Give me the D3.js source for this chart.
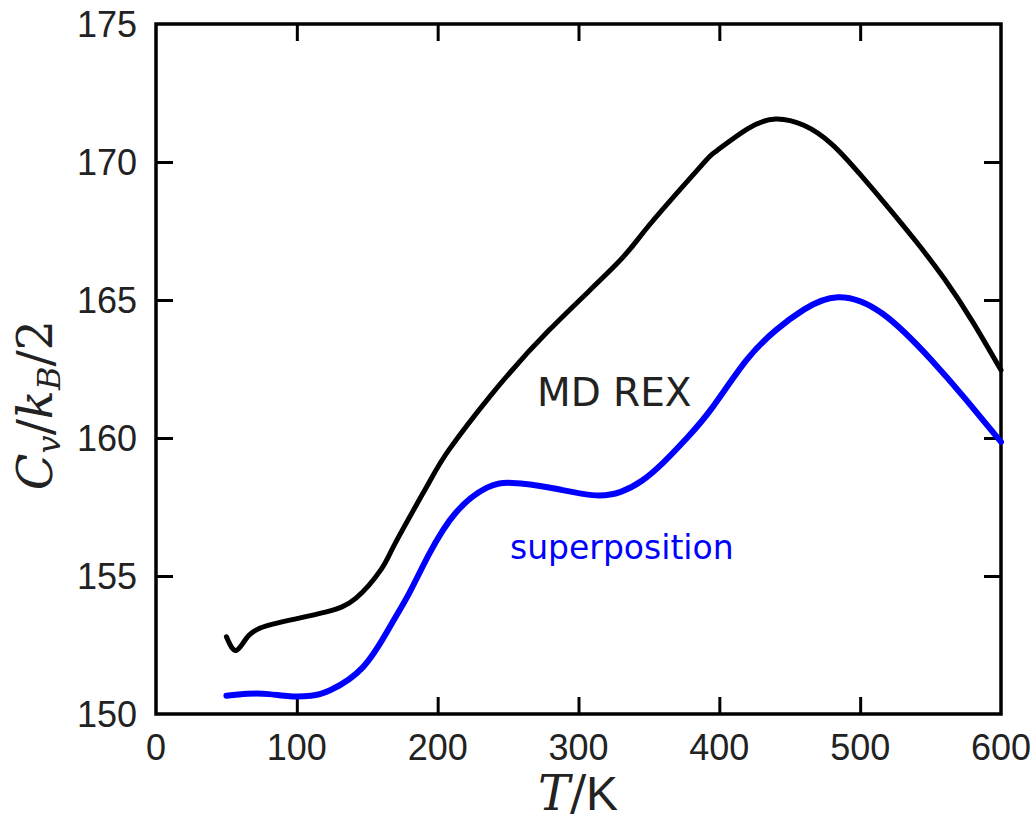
<!DOCTYPE html>
<html>
<head>
<meta charset="utf-8">
<script src="https://cdn.jsdelivr.net/npm/d3@7"></script>
<style>
	body { margin: 0; background: #fff; }
	svg { display: block; }
	.tick-label { font-family: 'Liberation Sans', Arial, sans-serif; font-size: 36px; fill: #222; }
	.math { font-family: 'DejaVu Serif', 'Liberation Serif', serif; }
</style>
</head>
<body>
<div id="chart"></div>
<script>
// Data
var mdRexT = [50, 57, 66, 79, 95, 121, 142, 160, 170, 194, 208, 237, 279, 327, 350, 386, 398, 420, 440, 460, 480, 500, 520, 540, 560, 580, 600];
var mdRexCv = [152.8, 152.3, 152.85, 153.2, 153.4, 153.7, 154.2, 155.25, 156.2, 158.4, 159.57, 161.5, 163.9, 166.3, 167.7, 169.8, 170.4, 171.2, 171.56, 171.33, 170.64, 169.55, 168.35, 167.1, 165.75, 164.2, 162.46];

var superT = [50, 65, 80, 95, 110, 124, 147, 166, 180, 194, 213, 235, 253, 280, 310, 330, 345, 360, 377, 395, 419, 440, 460, 484, 516, 551, 575, 600];
var superCv = [150.66, 150.73, 150.72, 150.64, 150.66, 150.87, 151.7, 153.15, 154.4, 155.8, 157.3, 158.2, 158.37, 158.2, 157.93, 158.05, 158.45, 159.1, 160.0, 161.1, 162.8, 163.9, 164.65, 165.1, 164.5, 162.8, 161.4, 159.86];

var xTicks = [0, 100, 200, 300, 400, 500, 600];
var yTicks = [150, 155, 160, 165, 170, 175];

var width = 1034;
var height = 821;
var margins = { top: 24, right: 33, bottom: 107, left: 156 };
var chartWidth = width - margins.left - margins.right;
var chartHeight = height - margins.top - margins.bottom;
var tickLen = 17;

var zip = function(xs, ys) {
	return xs.map(function(x, i) {
		return { t: x, cv: ys[i] };
	});
};

var svg = d3.select('#chart')
	.append('svg')
	.attr('width', width)
	.attr('height', height);

var chart = svg.append('g')
	.attr('transform', 'translate(' + margins.left + ',' + margins.top + ')');

var xScale = d3.scaleLinear().domain([0, 600]).range([0, chartWidth]);
var yScale = d3.scaleLinear().domain([150, 175]).range([chartHeight, 0]);

// inner ticks on all four sides (corners skipped)
chart.append('g')
	.attr('transform', 'translate(0,' + chartHeight + ')')
	.call(d3.axisTop(xScale).tickValues(xTicks.slice(1, -1)).tickSize(tickLen).tickSizeOuter(0).tickFormat(''));
chart.append('g')
	.call(d3.axisBottom(xScale).tickValues(xTicks.slice(1, -1)).tickSize(tickLen).tickSizeOuter(0).tickFormat(''));
chart.append('g')
	.call(d3.axisRight(yScale).tickValues(yTicks.slice(1, -1)).tickSize(tickLen).tickSizeOuter(0).tickFormat(''));
chart.append('g')
	.attr('transform', 'translate(' + chartWidth + ',0)')
	.call(d3.axisLeft(yScale).tickValues(yTicks.slice(1, -1)).tickSize(tickLen).tickSizeOuter(0).tickFormat(''));

chart.selectAll('.domain').remove();
chart.selectAll('.tick line').attr('stroke', '#000').attr('stroke-width', 3);

// frame
chart.append('rect')
	.attr('x', 0)
	.attr('y', 0)
	.attr('width', chartWidth)
	.attr('height', chartHeight)
	.attr('fill', 'none')
	.attr('stroke', '#000')
	.attr('stroke-width', 3.5);

// tick labels
chart.append('g')
	.selectAll('text')
	.data(xTicks)
	.enter()
	.append('text')
	.attr('class', 'tick-label')
	.attr('x', function(d) { return xScale(d); })
	.attr('y', chartHeight + 46)
	.attr('text-anchor', 'middle')
	.text(function(d) { return d; });

chart.append('g')
	.selectAll('text')
	.data(yTicks)
	.enter()
	.append('text')
	.attr('class', 'tick-label')
	.attr('x', -19)
	.attr('y', function(d) { return yScale(d) + 13; })
	.attr('text-anchor', 'end')
	.text(function(d) { return d; });

// lines
var line = d3.line()
	.curve(d3.curveNatural)
	.x(function(d) { return xScale(d.t); })
	.y(function(d) { return yScale(d.cv); });

chart.append('path')
	.datum(zip(mdRexT, mdRexCv))
	.attr('fill', 'none')
	.attr('stroke', '#000')
	.attr('stroke-width', 5)
	.attr('stroke-linecap', 'round')
	.attr('stroke-linejoin', 'round')
	.attr('d', line);

chart.append('path')
	.datum(zip(superT, superCv))
	.attr('fill', 'none')
	.attr('stroke', '#0000ff')
	.attr('stroke-width', 6)
	.attr('stroke-linecap', 'round')
	.attr('stroke-linejoin', 'round')
	.attr('d', line);

// series labels
svg.append('text')
	.attr('x', 537)
	.attr('y', 406)
	.style('font-family', "'DejaVu Sans', sans-serif")
	.style('font-size', '39px')
	.attr('fill', '#222')
	.text('MD REX');

svg.append('text')
	.attr('x', 510)
	.attr('y', 559)
	.style('font-family', "'DejaVu Sans', sans-serif")
	.style('font-size', '33px')
	.attr('fill', '#0000ff')
	.text('superposition');

// axis titles
var xTitle = svg.append('text')
	.attr('x', 578)
	.attr('y', 810)
	.attr('text-anchor', 'middle')
	.attr('fill', '#222')
	.style('font-size', '48px');
xTitle.append('tspan').attr('class', 'math').style('font-style', 'italic').text('T');
xTitle.append('tspan').attr('class', 'math').text('/');
xTitle.append('tspan').style('font-family', "'Liberation Sans', sans-serif").text('K');

var yTitle = svg.append('text')
	.attr('transform', 'translate(52,' + 405 + ') rotate(-90)')
	.attr('text-anchor', 'middle')
	.attr('fill', '#222')
	.attr('class', 'math')
	.style('font-size', '48px');
yTitle.append('tspan').style('font-style', 'italic').text('C');
yTitle.append('tspan').style('font-style', 'italic').style('font-size', '32px').attr('dy', 8).text('v');
yTitle.append('tspan').attr('dy', -8).text('/');
yTitle.append('tspan').style('font-style', 'italic').text('k');
yTitle.append('tspan').style('font-style', 'italic').style('font-size', '32px').attr('dy', 8).text('B');
yTitle.append('tspan').attr('dy', -8).text('/2');
</script>
</body>
</html>
